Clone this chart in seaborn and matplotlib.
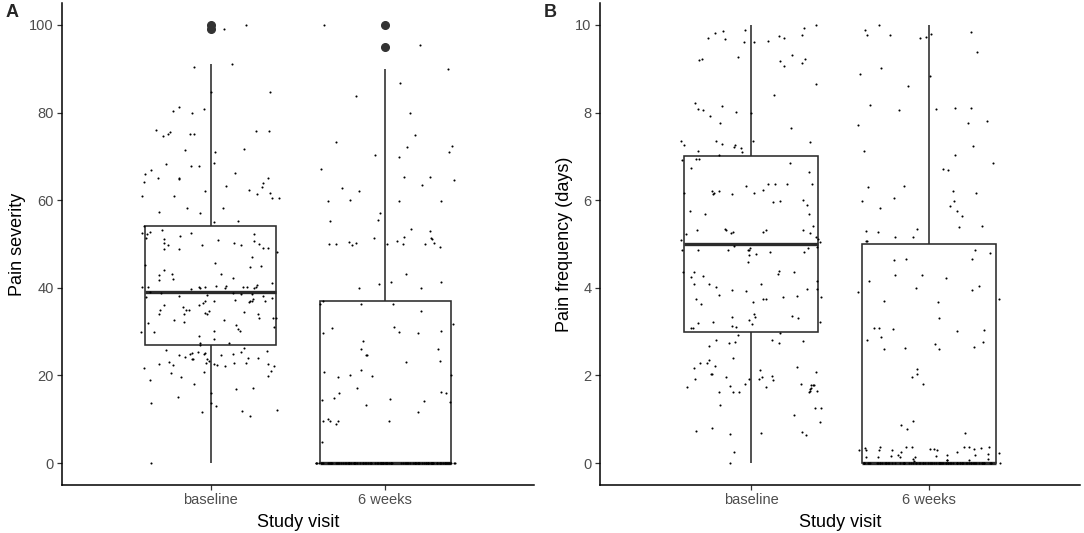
import numpy as np
import pandas as pd
import matplotlib
matplotlib.use("Agg")
import matplotlib.pyplot as plt
import seaborn as sns

# ---------------- data ----------------
visits = ["baseline", "6 weeks"]

severity_baseline = [
    0.0, 10.8, 11.6, 11.8, 12.2, 13.0, 13.7, 13.7, 15.0, 15.9,
    16.9, 17.2, 18.0, 19.0, 19.7, 19.9, 20.5, 20.7, 21.0, 21.8,
    22.1, 22.1, 22.3, 22.4, 22.6, 22.6, 22.7, 22.8, 22.8, 22.8,
    23.0, 23.2, 23.8, 23.8, 23.8, 24.0, 24.0, 24.2, 24.7, 24.7,
    24.8, 24.8, 25.0, 25.1, 25.2, 25.3, 25.4, 25.6, 25.7, 26.2,
    27.0,
    27.3, 27.5, 28.3, 28.9, 29.9, 30.0, 30.2, 30.2, 30.7, 31.0,
    31.5, 32.0, 32.2, 32.7, 32.7, 33.1, 33.2, 33.2, 34.1, 34.1,
    34.1, 34.1, 34.3, 34.5, 34.7, 35.0, 35.0, 35.0, 35.6, 36.0,
    36.1, 36.6, 36.8, 36.9, 36.9, 37.0, 37.0, 37.1, 37.3, 37.4,
    37.7, 37.9, 38.1, 38.2, 38.4, 38.5, 38.6, 38.8, 38.9,
    39.0,
    39.7, 39.9, 40.0, 40.0, 40.1, 40.1, 40.2, 40.2, 40.2, 40.3,
    40.3, 40.4, 40.5, 40.6, 41.2, 41.8, 41.9, 42.2, 42.9, 43.1,
    43.1, 44.1, 44.8, 45.0, 45.1, 45.7, 47.1, 48.2, 48.8, 48.9,
    49.0, 49.0, 49.7, 49.8, 49.8, 49.9, 50.2, 50.3, 50.7, 51.0,
    51.2, 51.4, 51.8, 52.2, 52.3, 52.4, 52.4, 52.8, 53.2,
    54.0,
    55.0, 55.2, 57.0, 57.2, 58.2, 58.3, 60.4, 60.4, 60.9, 61.0,
    61.4, 61.7, 62.0, 62.3, 63.0, 63.3, 63.9, 64.2, 64.8, 65.0,
    65.1, 65.1, 65.9, 66.3, 66.8, 67.9, 67.9, 68.3, 68.4, 71.0,
    71.4, 71.7, 74.7, 75.0, 75.0, 75.1, 75.5, 75.8, 75.9, 76.1,
    80.0, 80.3, 80.9, 81.2, 84.8, 84.8, 90.3, 91.0, 99.0, 100.0,
]

severity_6weeks = [
    100.0, 95.4, 90.0, 86.8, 83.8, 80.0, 74.8, 72.1, 73.2, 72.4,
    71.1, 70.2, 69.8, 67.1, 64.6, 65.2, 65.4, 63.5, 62.7, 62.0,
    60.1, 59.7, 59.7, 59.9, 57.0, 55.4, 55.2, 53.4, 52.9, 51.7,
    50.4, 49.9, 49.9, 51.3, 50.7, 50.2, 49.9, 50.0, 49.8, 50.3,
    51.3, 49.3, 51.1, 49.9, 43.1, 39.9, 39.9, 41.3, 40.8, 41.3,
    37.0,
    36.3, 36.4, 36.3, 34.6, 31.1, 30.1, 30.0, 27.9, 31.7, 30.8,
    29.8, 29.8, 24.6, 24.6, 26.0, 26.0, 23.2, 23.0, 21.3, 20.7,
    20.0, 20.0, 19.8, 19.6, 17.2, 16.2, 16.0, 14.1, 14.9, 13.9,
    14.6, 14.3, 16.0, 13.3, 11.7, 9.7, 10.0, 9.6, 8.9, 9.6,
    9.7, 4.9,
    0, 0, 0, 0, 0, 0, 0, 0, 0, 0, 0, 0, 0, 0, 0, 0, 0, 0, 0, 0,
    0, 0, 0, 0, 0, 0, 0, 0, 0, 0, 0, 0, 0, 0, 0, 0, 0, 0, 0, 0,
    0, 0, 0, 0, 0, 0, 0, 0, 0, 0, 0, 0, 0, 0, 0, 0, 0, 0, 0, 0,
    0, 0, 0, 0, 0, 0, 0, 0, 0, 0, 0, 0, 0, 0, 0, 0, 0, 0, 0, 0,
    0, 0, 0, 0, 0, 0, 0, 0, 0, 0, 0, 0, 0, 0, 0, 0, 0, 0, 0, 0,
    0, 0, 0, 0, 0, 0, 0, 0,
]

frequency_baseline = [
    0.0, 0.26,
    0.93, 0.74, 0.65, 0.71, 0.80, 0.67, 0.69, 1.10, 1.26, 1.25, 1.32,
    2.29, 1.93, 1.91, 1.90, 1.91, 1.98, 1.71, 1.70, 1.78, 1.79,
    1.64, 1.74, 1.64, 1.62, 1.96, 1.81, 2.08, 1.74, 1.75, 1.62,
    1.62, 2.19, 2.29, 2.21, 2.40, 2.04, 2.13, 2.03, 1.97, 1.78,
    1.80, 2.17, 2.35, 1.63,
    2.82, 2.76, 2.82, 2.74, 2.67, 2.79, 2.74, 2.92, 2.98, 3.40,
    3.34, 3.33, 3.27, 3.23, 3.35, 3.31, 3.20, 3.17, 3.12, 3.08,
    3.10, 3.08, 3.22,
    4.36, 4.31, 4.38, 4.24, 4.28, 4.35, 4.35, 4.09, 3.98, 3.98,
    4.09, 4.01, 4.15, 4.08, 3.94, 3.92, 3.83, 3.74, 3.79, 3.68,
    3.81, 3.74, 3.75, 3.78, 3.62,
    4.90, 4.81, 4.86, 4.93, 4.87, 4.86, 4.90, 4.86, 4.81, 4.87,
    4.95, 4.74, 4.60, 5.23, 5.34, 5.25, 5.17, 5.25, 5.28, 5.40,
    5.31, 5.27, 5.31, 5.32, 5.32, 5.09, 5.04, 5.12, 4.78,
    6.38, 6.38, 6.36, 6.33, 6.23, 6.21, 6.16, 6.16, 6.13, 6.17,
    6.14, 6.37, 6.20, 6.01, 5.98, 5.96, 5.88, 5.76, 5.68, 5.69,
    6.64, 6.73, 6.85, 6.92, 6.93, 6.93, 7.29, 7.27, 7.32, 7.09,
    7.13, 7.04, 7.36, 7.27, 7.18, 7.34, 7.36, 7.22,
    8.22, 8.40, 8.01, 8.06, 8.00, 7.93, 8.15, 8.07, 7.65, 7.77,
    8.66, 9.26, 9.23, 9.18, 9.07, 9.23, 9.19, 9.31, 9.12,
    9.86, 9.88, 9.63, 9.82, 9.92, 9.75, 9.76, 9.62, 9.61, 9.70,
    9.67, 9.71, 10.0,
]

frequency_6weeks = [
    10.0, 9.89, 9.77, 9.71, 9.83, 9.78, 9.73, 9.80, 9.38, 9.01,
    8.89, 8.84, 8.61, 8.05, 7.77, 8.11, 8.18, 8.07, 8.10, 7.80,
    7.71, 7.23, 7.12, 7.02, 6.71, 6.84, 6.69, 6.29, 6.22, 6.05,
    6.16, 5.97, 6.32, 5.99, 5.82, 5.86, 5.75, 5.63, 5.40, 5.35,
    5.28, 5.15, 5.16, 5.30, 5.38, 5.06, 5.06,
    4.79, 4.65, 4.63, 4.65, 4.86, 4.22, 4.30, 4.29, 4.04, 3.90,
    3.74, 3.67, 3.71, 3.94, 4.15, 3.99, 3.31, 3.05, 3.04, 3.01,
    2.87, 3.08, 2.82, 2.60, 2.60, 2.71, 2.64, 2.76, 3.08, 2.63,
    2.15, 1.96, 2.03, 1.81, 0.69, 0.87, 0.77, 0.96,
    0.30, 0.18, 0.13, 0.20, 0.18, 0.16, 0.30, 0.37, 0.31, 0.30,
    0.06, 0.05, 0.08, 0.37, 0.37, 0.26, 0.10, 0.19, 0.36, 0.31,
    0.35, 0.36, 0.16, 0.33, 0.33, 0.10, 0.14, 0.37, 0.34, 0.26,
    0.07, 0.14, 0.23, 0.32, 0.14,
    0, 0, 0, 0, 0, 0, 0, 0, 0, 0, 0, 0, 0, 0, 0, 0, 0, 0, 0, 0,
    0, 0, 0, 0, 0, 0, 0, 0, 0, 0, 0, 0, 0, 0, 0, 0, 0, 0, 0, 0,
    0, 0, 0, 0, 0, 0, 0, 0, 0, 0, 0, 0, 0, 0, 0, 0, 0, 0, 0, 0,
    0, 0, 0, 0, 0, 0, 0, 0, 0, 0, 0, 0, 0, 0, 0, 0, 0, 0, 0, 0,
    0,
]

severity_ticks = [0, 20, 40, 60, 80, 100]
frequency_ticks = [0, 2, 4, 6, 8, 10]


def make_frame(base, week6):
    df = pd.DataFrame({
        "visit": [visits[0]] * len(base) + [visits[1]] * len(week6),
        "value": list(base) + list(week6),
    })
    # points were vertically jittered; the box uses the underlying whole values
    df["box_value"] = np.round(df["value"])
    return df


df_sev = make_frame(severity_baseline, severity_6weeks)
df_freq = make_frame(frequency_baseline, frequency_6weeks)

# ---------------- styling ----------------
sns.set_theme(style="white")
plt.rcParams["font.family"] = ["Liberation Sans", "DejaVu Sans"]

fig = plt.figure(figsize=(10.84, 5.33), dpi=100)
ax_a = fig.add_axes([62 / 1084, 1 - 485 / 533, (534 - 62) / 1084, (485 - 3) / 533])
ax_b = fig.add_axes([600 / 1084, 1 - 485 / 533, (1080 - 600) / 1084, (485 - 3) / 533])

np.random.seed(7)

panels = [
    (ax_a, df_sev, "Pain severity", severity_ticks, (-5, 105)),
    (ax_b, df_freq, "Pain frequency (days)", frequency_ticks, (-0.5, 10.5)),
]

for ax, df, ylabel, ticks, ylim in panels:
    sns.boxplot(
        data=df, x="visit", y="box_value", order=visits, ax=ax,
        width=0.75, color="white", linecolor="#2b2b2b", linewidth=1.15,
        showcaps=False, whis=1.5, fliersize=5.5,
        flierprops=dict(marker="o", markerfacecolor="#333333",
                        markeredgecolor="#333333"),
        medianprops=dict(linewidth=2.4, color="#2b2b2b"),
    )
    sns.stripplot(
        data=df, x="visit", y="value", order=visits, ax=ax,
        jitter=0.4, size=1.5, color="black", linewidth=0, zorder=3,
    )
    ax.set_xlim(-0.85, 1.85)
    ax.set_ylim(*ylim)
    ax.set_yticks(ticks)
    ax.set_yticklabels([str(t) for t in ticks])
    ax.set_xlabel("Study visit", fontsize=13, color="black", labelpad=5)
    ax.set_ylabel(ylabel, fontsize=13, color="black", labelpad=2)
    for side in ["top", "right"]:
        ax.spines[side].set_visible(False)
    for side in ["left", "bottom"]:
        ax.spines[side].set_color("black")
        ax.spines[side].set_linewidth(1.1)
    ax.tick_params(axis="both", which="major", direction="out", length=3.5,
                   width=0.9, color="#333333", labelsize=10.5,
                   labelcolor="#4D4D4D", pad=2.5,
                   bottom=True, left=True)
    ax.grid(False)
    ax.set_facecolor("white")

fig.text(6 / 1084, 1 - 4 / 533, "A", fontsize=13, fontweight="bold",
         ha="left", va="top")
fig.text(544 / 1084, 1 - 4 / 533, "B", fontsize=13, fontweight="bold",
         ha="left", va="top")

fig.savefig("out.png", dpi=100, facecolor="white")
